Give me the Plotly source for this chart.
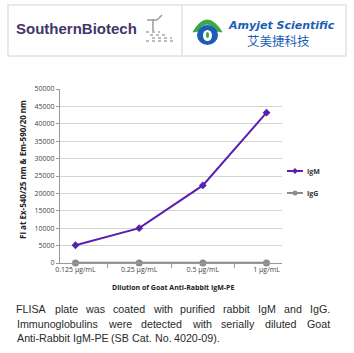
import plotly.graph_objects as go

categories = ["0.125 µg/mL", "0.25 µg/mL", "0.5 µg/mL", "1 µg/mL"]
igm = [5100, 10000, 22300, 43200]
igg = [0, 0, 0, 0]
y_ticks = list(range(0, 50001, 5000))

caption_lines = [
    "FLISA plate was coated with purified rabbit IgM and IgG.",
    "Immunoglobulins were detected with serially diluted Goat",
    "Anti-Rabbit IgM-PE (SB Cat. No. 4020-09).",
]

W, H = 354, 353
L, R, T, B = 60, 282, 89, 263  # plot area in pixels

IGM_COLOR = "#5a1fb0"
IGG_COLOR = "#8c8c8c"


def px(x):
    return (x - L) / (R - L)


def py(y):
    return (B - y) / (B - T)


# Arial / Liberation Sans advance widths (per 1000 em) for caption justification
ARIAL = {
    " ": 278, "a": 556, "b": 556, "c": 500, "d": 556, "e": 556, "f": 278, "g": 556,
    "h": 556, "i": 222, "j": 222, "k": 500, "l": 222, "m": 833, "n": 556, "o": 556,
    "p": 556, "q": 556, "r": 333, "s": 500, "t": 278, "u": 556, "v": 500, "w": 722,
    "x": 500, "y": 500, "z": 500, "A": 667, "B": 667, "C": 722, "D": 722, "E": 667,
    "F": 611, "G": 778, "H": 722, "I": 278, "L": 556, "M": 833, "N": 722, "P": 667,
    "R": 722, "S": 667, "T": 611, ".": 278, "(": 333, ")": 333, "-": 333,
}
for d in "0123456789":
    ARIAL[d] = 556


def text_w(s, size):
    return sum(ARIAL.get(c, 556) for c in s) / 1000.0 * size


fig = go.Figure()
fig.add_trace(go.Scatter(
    x=categories, y=igm, name="IgM", mode="lines+markers",
    line=dict(color=IGM_COLOR, width=2),
    marker=dict(symbol="diamond", size=6, color=IGM_COLOR),
    cliponaxis=False,
))
fig.add_trace(go.Scatter(
    x=categories, y=igg, name="IgG", mode="lines+markers",
    line=dict(color=IGG_COLOR, width=2.5),
    marker=dict(symbol="circle", size=7, color=IGG_COLOR),
    cliponaxis=False,
))

shapes = []
annotations = []

# header box
shapes.append(dict(type="rect", xref="paper", yref="paper",
                   x0=px(8), x1=px(346), y0=py(5), y1=py(56),
                   line=dict(color="#e2e2e2", width=1.5), layer="above"))
shapes.append(dict(type="line", xref="paper", yref="paper",
                   x0=px(182), x1=px(182), y0=py(5), y1=py(56),
                   line=dict(color="#e2e2e2", width=1.5)))
# SouthernBiotech
annotations.append(dict(xref="paper", yref="paper", x=px(14), y=py(29),
                        xanchor="left", yanchor="middle", showarrow=False,
                        text="SouthernBiotech",
                        font=dict(family="Liberation Sans", size=15, weight=600, color="#45356b")))
# antenna icon
for (x0, y0, x1, y1) in [(153, 19, 153, 31), (147, 20, 157, 20), (157, 20, 162, 15)]:
    shapes.append(dict(type="line", xref="paper", yref="paper",
                       x0=px(x0), x1=px(x1), y0=py(y0), y1=py(y1),
                       line=dict(color="#9a9a9a", width=1.5)))
for (x0, x1, y) in [(146, 160, 32), (150, 166, 35), (152, 172, 38), (146, 176, 41)]:
    shapes.append(dict(type="line", xref="paper", yref="paper",
                       x0=px(x0), x1=px(x1), y0=py(y), y1=py(y),
                       line=dict(color="#a8a8a8", width=1.5, dash="dot")))
# Amyjet logo
shapes.append(dict(type="path", xref="paper", yref="paper",
                   path=f"M {px(193)} {py(32)} Q {px(207)} {py(8)} {px(222)} {py(32)} L {px(217)} {py(31)} Q {px(207)} {py(17)} {px(198)} {py(31)} Z",
                   fillcolor="#3aa845", line=dict(color="#3aa845", width=1)))
shapes.append(dict(type="circle", xref="paper", yref="paper",
                   x0=px(197), x1=px(218), y0=py(25), y1=py(45),
                   fillcolor="#1a5fb4", line=dict(width=0)))
shapes.append(dict(type="circle", xref="paper", yref="paper",
                   x0=px(203), x1=px(212), y0=py(30), y1=py(41),
                   fillcolor="white", line=dict(width=0)))
shapes.append(dict(type="circle", xref="paper", yref="paper",
                   x0=px(206), x1=px(209), y0=py(32), y1=py(38),
                   fillcolor="#3aa845", line=dict(width=0)))
annotations.append(dict(xref="paper", yref="paper", x=px(226), y=py(25),
                        xanchor="left", yanchor="middle", showarrow=False,
                        text="<b><i>Amyjet Scientific</i></b>",
                        font=dict(family="DejaVu Sans", size=11, color="#1a5fb4")))
annotations.append(dict(xref="paper", yref="paper", x=px(278.5), y=py(40),
                        xanchor="center", yanchor="middle", showarrow=False,
                        text="艾美捷科技",
                        font=dict(family="Noto Sans CJK SC", size=12.5, color="#1a5fb4")))

# axis titles
annotations.append(dict(xref="paper", yref="paper", x=px(173), y=py(287),
                        xanchor="center", yanchor="middle", showarrow=False,
                        text="<b>Dilution of Goat Anti-Rabbit IgM-PE</b>",
                        font=dict(family="Open Sans", size=7, color="#222222")))
annotations.append(dict(xref="paper", yref="paper", x=px(22), y=py(170),
                        xanchor="center", yanchor="middle", showarrow=False,
                        textangle=-90,
                        text="<b>FI at Ex-540/25 nm & Em-590/20 nm</b>",
                        font=dict(family="Open Sans", size=8, color="#222222")))

# legend key (decorative)
for name, color, symbol_y, sym in [("IgM", IGM_COLOR, 171, "diamond"), ("IgG", IGG_COLOR, 193, "circle")]:
    shapes.append(dict(type="line", xref="paper", yref="paper",
                       x0=px(287), x1=px(303), y0=py(symbol_y), y1=py(symbol_y),
                       line=dict(color=color, width=2)))
    if sym == "diamond":
        shapes.append(dict(type="path", xref="paper", yref="paper",
                           path=f"M {px(295)} {py(symbol_y-3)} L {px(298)} {py(symbol_y)} L {px(295)} {py(symbol_y+3)} L {px(292)} {py(symbol_y)} Z",
                           fillcolor=color, line=dict(color=color, width=0)))
    else:
        shapes.append(dict(type="circle", xref="paper", yref="paper",
                           x0=px(292.5), x1=px(297.5), y0=py(symbol_y-2.5), y1=py(symbol_y+2.5),
                           fillcolor=color, line=dict(width=0)))
    annotations.append(dict(xref="paper", yref="paper", x=px(305), y=py(symbol_y),
                            xanchor="left", yanchor="middle", showarrow=False,
                            text=f"<b>{name}</b>",
                            font=dict(family="Open Sans", size=7, color="#333333")))

# caption: first two lines justified between x=17 and x=330, last line left-aligned
CAP_SIZE = 10.7
CAP_FONT = dict(family="Liberation Sans", size=CAP_SIZE, color="#2a2a2a")
X_LEFT, X_RIGHT = 17, 330
for i, line in enumerate(caption_lines):
    yline = 309 + 14.7 * i
    words = line.split(" ")
    widths = [text_w(w, CAP_SIZE) for w in words]
    if i == len(caption_lines) - 1:
        gap = text_w(" ", CAP_SIZE)
    else:
        gap = (X_RIGHT - X_LEFT - sum(widths)) / (len(words) - 1)
    xcur = X_LEFT
    for w, wd in zip(words, widths):
        annotations.append(dict(xref="paper", yref="paper", x=px(xcur + wd / 2), y=py(yline),
                                xanchor="center", yanchor="middle", showarrow=False,
                                text=w, font=CAP_FONT))
        xcur += wd + gap

fig.update_layout(
    width=W, height=H,
    margin=dict(l=L, r=W - R, t=T, b=H - B),
    paper_bgcolor="white", plot_bgcolor="white",
    showlegend=False,
    shapes=shapes, annotations=annotations,
    xaxis=dict(type="category", tickson="boundaries", ticks="outside", ticklen=4,
               tickcolor="#999999", showline=True, linecolor="#999999",
               showgrid=False, tickfont=dict(family="Open Sans", size=7, color="#444444")),
    yaxis=dict(range=[0, 50000], tickvals=y_ticks, tickformat="d", ticks="outside", ticklen=3,
               tickcolor="#999999", showline=True, linecolor="#999999",
               gridcolor="#d4d4d4", gridwidth=1, zeroline=False,
               tickfont=dict(family="Open Sans", size=7, color="#444444")),
)

fig.write_html("out.html")
